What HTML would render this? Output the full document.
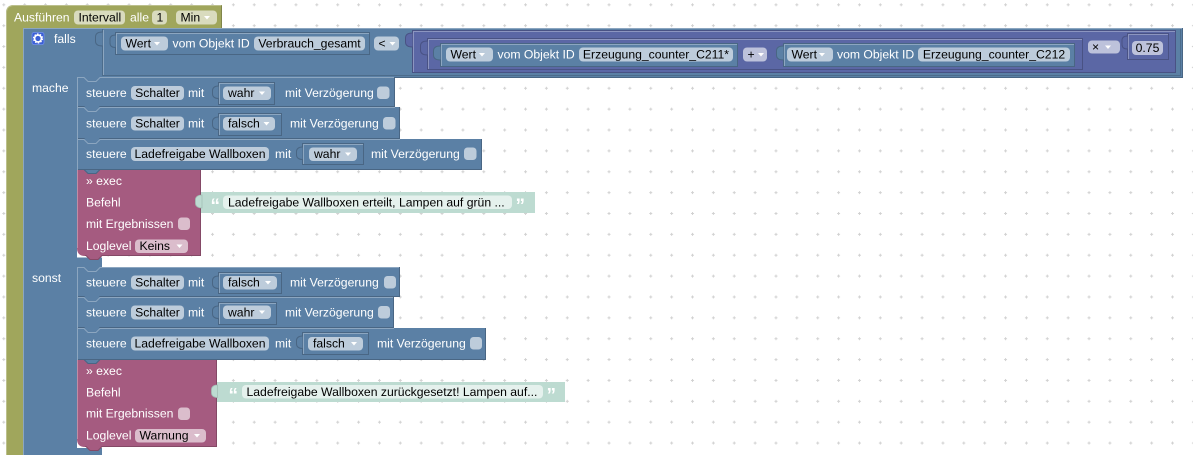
<!DOCTYPE html>
<html><head><meta charset="utf-8">
<style>
html,body{margin:0;padding:0;background:#fff;}
svg{display:block}
text{font-family:"Liberation Sans",Arial,sans-serif;font-size:12.2px;}
.l{fill:#fff}
.t{fill:#000}
.f{fill:#fff;fill-opacity:.6}
.a{fill:#fff}
.q{fill:#fff;font-size:19px;font-weight:bold}
</style></head><body>
<svg width="1193" height="455" viewBox="0 0 1193 455" xmlns="http://www.w3.org/2000/svg">
<defs>
<pattern id="g" width="20.87" height="20.87" patternUnits="userSpaceOnUse" x="2.3" y="3.3">
<path d="M0 1.5H3M1.5 0V3" stroke="#d2d2d2" stroke-width="1"/>
</pattern>
</defs>
<rect width="1193" height="455" fill="#fff"/>
<rect width="1193" height="455" fill="url(#g)"/>

<!-- Green event block -->
<path d="M6,13 Q6,5 14,5 H222 V28 H23 V455 H6 Z" fill="#a0a65c"/>
<path d="M6.5,455 V13 Q6.5,5.5 14,5.5 H221.5" stroke="#bcc08d" fill="none"/>
<path d="M221.5,5.5 V28" stroke="#80854a" fill="none"/>
<text class="l" x="14" y="21.5">Ausführen</text>
<rect class="f" x="74" y="10.5" width="51" height="14" rx="4"/>
<text class="t" x="78.5" y="21.5">Intervall</text>
<text class="l" x="130" y="21.5">alle</text>
<rect class="f" x="152" y="10.5" width="15" height="14" rx="4"/>
<text class="t" x="156.5" y="21.5">1</text>
<rect class="f" x="176" y="10.5" width="41" height="14" rx="4"/>
<text class="t" x="180.5" y="21.5">Min</text>
<polygon class="a" points="204,16 210,16 207,19.5"/>

<!-- If block -->
<path d="M23,28 H1183 V78 H77 V257.5 H102 V267.5 H77 V448 H102 V455 H23 Z" fill="#5b80a5"/>
<path d="M23.5,455 V28.5 H1183" stroke="#8ca6c0" fill="none"/>
<path d="M1182.5,28 V77.5 H77" stroke="#496684" fill="none"/>
<rect x="32" y="32.5" width="12" height="12" rx="2" fill="#3b5fd6" stroke="#7290ea" stroke-width=".8"/>
<circle cx="38" cy="38.5" r="3.4" fill="none" stroke="#fff" stroke-width="1.6"/>
<circle cx="38" cy="38.5" r="4.4" fill="none" stroke="#fff" stroke-width="1.4" stroke-dasharray="1.5 1.3"/>
<text class="l" x="54" y="43">falls</text>
<text class="l" x="32" y="92">mache</text>
<text class="l" x="32" y="282">sonst</text>

<!-- Compare block -->
<path d="M102.5,76 V29 M102,75.5 H1180.5 V29" stroke="#496684" fill="none" stroke-opacity=".8"/>
<path d="M103.5,75 V30" stroke="#8ca6c0" fill="none"/>
<path d="M102.5,32 c-5,0 -7,2 -7,5 v4 c0,3 2,5 7,5" fill="#5b80a5" stroke="#496684"/>

<!-- Get block 1 -->
<rect x="115.5" y="32.5" width="254" height="22" fill="#5b80a5" stroke="#496684"/>
<path d="M116.5,54 V33.5 H369" stroke="#8ca6c0" fill="none"/>
<path d="M115.5,35 c-4,0 -5.5,2 -5.5,4.5 v3.5 c0,2.5 1.5,4.5 5.5,4.5" fill="#5b80a5" stroke="#496684"/>
<rect class="f" x="121" y="36.5" width="47" height="14" rx="4"/>
<text class="t" x="125.5" y="47.5">Wert</text>
<polygon class="a" points="154,42 160,42 157,45.5"/>
<text class="l" x="172.5" y="47.5">vom Objekt ID</text>
<rect class="f" x="254" y="36.5" width="111" height="14" rx="4"/>
<text class="t" x="309.5" y="47.5" text-anchor="middle">Verbrauch_gesamt</text>
<rect class="f" x="374" y="36.5" width="25" height="14" rx="4"/>
<text class="t" x="378.5" y="47.5">&lt;</text>
<polygon class="a" points="389.5,42 395.5,42 392.5,45.5"/>

<!-- Purple outer (multiply) -->
<rect x="412.5" y="30.5" width="763" height="42" fill="#5b67a5" stroke="#495284"/>
<path d="M413.5,72 V31.5 H1175" stroke="#8c95c0" fill="none"/>
<path d="M412.5,33 c-5,0 -7,2 -7,5 v4 c0,3 2,5 7,5" fill="#5b67a5" stroke="#495284"/>
<!-- Purple inner (add) -->
<rect x="427.5" y="38.5" width="655" height="31" fill="#5b67a5" stroke="#495284"/>
<path d="M428.5,69 V39.5 H1082" stroke="#8c95c0" fill="none"/>
<path d="M427.5,41 c-5,0 -7,2 -7,5 v4 c0,3 2,5 7,5" fill="#5b67a5" stroke="#495284"/>

<!-- Get C211 -->
<rect x="440.5" y="43.5" width="297" height="23" fill="#5b80a5" stroke="#496684"/>
<path d="M441.5,66 V44.5 H737" stroke="#8ca6c0" fill="none"/>
<path d="M440.5,46 c-5,0 -7,2 -7,5 v4 c0,3 2,5 7,5" fill="#5b80a5" stroke="#496684"/>
<rect class="f" x="446" y="47.5" width="47" height="14" rx="4"/>
<text class="t" x="450.5" y="58.5">Wert</text>
<polygon class="a" points="479,53 485,53 482,56.5"/>
<text class="l" x="497.5" y="58.5">vom Objekt ID</text>
<rect class="f" x="579" y="47.5" width="154" height="14" rx="4"/>
<text class="t" x="656" y="58.5" text-anchor="middle">Erzeugung_counter_C211*</text>

<rect class="f" x="743" y="47.5" width="24" height="14" rx="4"/>
<text class="t" x="747.5" y="58.5">+</text>
<polygon class="a" points="758,53 764,53 761,56.5"/>

<!-- Get C212 -->
<rect x="783.5" y="43.5" width="291" height="23" fill="#5b80a5" stroke="#496684"/>
<path d="M784.5,66 V44.5 H1074" stroke="#8ca6c0" fill="none"/>
<path d="M783.5,46 c-5,0 -7,2 -7,5 v4 c0,3 2,5 7,5" fill="#5b80a5" stroke="#496684"/>
<rect class="f" x="787" y="47.5" width="46" height="14" rx="4"/>
<text class="t" x="791.5" y="58.5">Wert</text>
<polygon class="a" points="819,53 825,53 822,56.5"/>
<text class="l" x="837" y="58.5">vom Objekt ID</text>
<rect class="f" x="918" y="47.5" width="152" height="14" rx="4"/>
<text class="t" x="994" y="58.5" text-anchor="middle">Erzeugung_counter_C212</text>

<!-- multiply op + number -->
<rect class="f" x="1088" y="40.5" width="32" height="13" rx="4"/>
<text class="t" x="1092" y="51">×</text>
<polygon class="a" points="1105,45.5 1111,45.5 1108,49"/>
<rect x="1127.5" y="33.5" width="41" height="26" fill="#5b67a5" stroke="#495284"/>
<path d="M1128.5,59 V34.5 H1168" stroke="#8c95c0" fill="none"/>
<path d="M1127.5,36 c-4,0 -5.5,2 -5.5,4.5 v4 c0,2.5 1.5,4.5 5.5,4.5" fill="#5b67a5" stroke="#495284"/>
<rect class="f" x="1132" y="41" width="31" height="14" rx="4"/>
<text class="t" x="1147.5" y="52" text-anchor="middle">0.75</text>

<!-- ===== mache rows ===== -->
<!-- A1 -->
<rect x="77" y="77" width="318" height="30" fill="#5b80a5"/>
<path d="M77,106.5 H84 L88,110.5 H96 L100,106.5 H394.5 V77" stroke="#496684" fill="none"/>
<path d="M77.5,107 V77.5 H84 L88,81.5 H96 L100,77.5 H394" stroke="#8ca6c0" fill="none"/>
<text class="l" x="86" y="97">steuere</text>
<rect class="f" x="131" y="86" width="53" height="14" rx="4"/>
<text class="t" x="157.5" y="97" text-anchor="middle">Schalter</text>
<text class="l" x="188" y="97">mit</text>
<rect x="218.5" y="82.5" width="56" height="22" fill="#5b80a5" stroke="#496684"/>
<path d="M219.5,104 V83.5 H274" stroke="#8ca6c0" fill="none"/>
<path d="M218.5,86 c-4,0 -6,2 -6,4.5 v3.5 c0,2.5 2,4.5 6,4.5" fill="#5b80a5" stroke="#496684"/>
<rect class="f" x="223" y="86.5" width="48" height="13.5" rx="4"/>
<text class="t" x="228" y="97">wahr</text>
<polygon class="a" points="259,91.5 265,91.5 262,95"/>
<text class="l" x="285" y="97">mit Verzögerung</text>
<rect class="f" x="377" y="86.5" width="12.5" height="12.5" rx="3.5"/>

<!-- A2 -->
<rect x="77" y="107" width="323" height="32" fill="#5b80a5"/>
<path d="M77,138.5 H84 L88,142.5 H96 L100,138.5 H399.5 V107" stroke="#496684" fill="none"/>
<path d="M77.5,139 V107.5 H84 L88,111.5 H96 L100,107.5 H395" stroke="#8ca6c0" fill="none"/>
<text class="l" x="86" y="127.5">steuere</text>
<rect class="f" x="131" y="116.5" width="53" height="14" rx="4"/>
<text class="t" x="157.5" y="127.5" text-anchor="middle">Schalter</text>
<text class="l" x="188" y="127.5">mit</text>
<rect x="218.5" y="113.5" width="63" height="22" fill="#5b80a5" stroke="#496684"/>
<path d="M219.5,135 V114.5 H281" stroke="#8ca6c0" fill="none"/>
<path d="M218.5,117 c-4,0 -6,2 -6,4.5 v3.5 c0,2.5 2,4.5 6,4.5" fill="#5b80a5" stroke="#496684"/>
<rect class="f" x="223" y="117" width="52" height="13.5" rx="4"/>
<text class="t" x="228" y="127.5">falsch</text>
<polygon class="a" points="263.5,122 269.5,122 266.5,125.5"/>
<text class="l" x="290" y="127.5">mit Verzögerung</text>
<rect class="f" x="383" y="117" width="12.5" height="12.5" rx="3.5"/>

<!-- A3 -->
<rect x="77" y="139" width="405" height="31" fill="#5b80a5"/>
<path d="M77,169.5 H481.5 V139" stroke="#496684" fill="none"/>
<path d="M77.5,170 V139.5 H84 L88,143.5 H96 L100,139.5 H400" stroke="#8ca6c0" fill="none"/>
<text class="l" x="86" y="158">steuere</text>
<rect class="f" x="131" y="147" width="138" height="14" rx="4"/>
<text class="t" x="200" y="158" text-anchor="middle">Ladefreigabe Wallboxen</text>
<text class="l" x="275" y="158">mit</text>
<rect x="302.5" y="143.5" width="61" height="21" fill="#5b80a5" stroke="#496684"/>
<path d="M303.5,164 V144.5 H363" stroke="#8ca6c0" fill="none"/>
<path d="M302.5,147 c-4,0 -6,2 -6,4.5 v3.5 c0,2.5 2,4.5 6,4.5" fill="#5b80a5" stroke="#496684"/>
<rect class="f" x="309" y="147.5" width="48" height="13.5" rx="4"/>
<text class="t" x="314" y="158">wahr</text>
<polygon class="a" points="345,152.5 351,152.5 348,156"/>
<text class="l" x="371" y="158">mit Verzögerung</text>
<rect class="f" x="464" y="147.5" width="12.5" height="12.5" rx="3.5"/>

<!-- Exec A -->
<path d="M77,170 H201 V256 H102 L98,260 H90 L86,256 H85 Q77,256 77,248 Z" fill="#a55b80"/>
<path d="M77.5,248 V170" stroke="#c08da6" fill="none"/>
<path d="M200.5,170 V255.5 H102 L98,259.5 H90 L86,255.5 H85" stroke="#844966" fill="none"/>
<path d="M84,170 L88,174 H96 L100,170 Z" fill="#5b80a5"/>
<path d="M84,169.5 L88,173.5 H96 L100,169.5" stroke="#496684" fill="none"/>
<text class="l" x="86" y="185">» exec</text>
<text class="l" x="86" y="206.5">Befehl</text>
<text class="l" x="86" y="228">mit Ergebnissen</text>
<rect class="f" x="178" y="217.5" width="12" height="12.5" rx="3.5"/>
<text class="l" x="86" y="250">Loglevel</text>
<rect class="f" x="135" y="239.5" width="53" height="13.5" rx="4"/>
<text class="t" x="139.5" y="250">Keins</text>
<polygon class="a" points="176.5,244.5 182.5,244.5 179.5,248"/>

<!-- Text block A -->
<rect x="201" y="192" width="334" height="21" fill="#bddbd1"/>
<path d="M202,195 c-4,0 -6.5,2 -6.5,4.5 v4 c0,2.5 2.5,4.5 6.5,4.5 Z" fill="#bddbd1" stroke="#a3bfb5" stroke-width=".8"/>
<text class="q" x="210.5" y="212">“</text>
<rect class="f" x="223" y="195.5" width="289" height="13.5" rx="4"/>
<text class="t" x="228" y="206.5">Ladefreigabe Wallboxen erteilt, Lampen auf grün ...</text>
<text class="q" x="515.5" y="212">”</text>

<!-- ===== sonst rows ===== -->
<!-- B1 -->
<rect x="77" y="267" width="323" height="30" fill="#5b80a5"/>
<path d="M77,296.5 H84 L88,300.5 H96 L100,296.5 H399.5 V267" stroke="#496684" fill="none"/>
<path d="M77.5,297 V267.5 H84 L88,271.5 H96 L100,267.5 H399" stroke="#8ca6c0" fill="none"/>
<text class="l" x="86" y="286.5">steuere</text>
<rect class="f" x="131" y="275.5" width="53" height="14" rx="4"/>
<text class="t" x="157.5" y="286.5" text-anchor="middle">Schalter</text>
<text class="l" x="188" y="286.5">mit</text>
<rect x="218.5" y="272.5" width="63" height="21" fill="#5b80a5" stroke="#496684"/>
<path d="M219.5,293 V273.5 H281" stroke="#8ca6c0" fill="none"/>
<path d="M218.5,276 c-4,0 -6,2 -6,4.5 v3.5 c0,2.5 2,4.5 6,4.5" fill="#5b80a5" stroke="#496684"/>
<rect class="f" x="223" y="276" width="54" height="13.5" rx="4"/>
<text class="t" x="228" y="286.5">falsch</text>
<polygon class="a" points="265,281 271,281 268,284.5"/>
<text class="l" x="290" y="286.5">mit Verzögerung</text>
<rect class="f" x="384" y="276" width="12" height="12.5" rx="3.5"/>

<!-- B2 -->
<rect x="77" y="297" width="317" height="31" fill="#5b80a5"/>
<path d="M77,327.5 H84 L88,331.5 H96 L100,327.5 H393.5 V297" stroke="#496684" fill="none"/>
<path d="M77.5,328 V297.5 H84 L88,301.5 H96 L100,297.5 H393" stroke="#8ca6c0" fill="none"/>
<text class="l" x="86" y="316.5">steuere</text>
<rect class="f" x="131" y="305.5" width="53" height="14" rx="4"/>
<text class="t" x="157.5" y="316.5" text-anchor="middle">Schalter</text>
<text class="l" x="188" y="316.5">mit</text>
<rect x="218.5" y="302.5" width="58" height="22" fill="#5b80a5" stroke="#496684"/>
<path d="M219.5,324 V303.5 H276" stroke="#8ca6c0" fill="none"/>
<path d="M218.5,306 c-4,0 -6,2 -6,4.5 v3.5 c0,2.5 2,4.5 6,4.5" fill="#5b80a5" stroke="#496684"/>
<rect class="f" x="223" y="305.5" width="48" height="13.5" rx="4"/>
<text class="t" x="228" y="316.5">wahr</text>
<polygon class="a" points="259,310.5 265,310.5 262,314"/>
<text class="l" x="285" y="316.5">mit Verzögerung</text>
<rect class="f" x="378" y="306" width="12" height="12.5" rx="3.5"/>

<!-- B3 -->
<rect x="77" y="328" width="409" height="32" fill="#5b80a5"/>
<path d="M77,359.5 H485.5 V328" stroke="#496684" fill="none"/>
<path d="M77.5,360 V328.5 H84 L88,332.5 H96 L100,328.5 H394" stroke="#8ca6c0" fill="none"/>
<text class="l" x="86" y="347.5">steuere</text>
<rect class="f" x="131" y="336.5" width="138" height="14" rx="4"/>
<text class="t" x="200" y="347.5" text-anchor="middle">Ladefreigabe Wallboxen</text>
<text class="l" x="275" y="347.5">mit</text>
<rect x="302.5" y="332.5" width="66" height="22" fill="#5b80a5" stroke="#496684"/>
<path d="M303.5,354 V333.5 H368" stroke="#8ca6c0" fill="none"/>
<path d="M302.5,336 c-4,0 -6,2 -6,4.5 v3.5 c0,2.5 2,4.5 6,4.5" fill="#5b80a5" stroke="#496684"/>
<rect class="f" x="308" y="337" width="55" height="13.5" rx="4"/>
<text class="t" x="313" y="347.5">falsch</text>
<polygon class="a" points="351,342 357,342 354,345.5"/>
<text class="l" x="377" y="347.5">mit Verzögerung</text>
<rect class="f" x="470" y="337" width="12" height="12.5" rx="3.5"/>

<!-- Exec B -->
<path d="M77,360 H217 V447 H102 L98,451 H90 L86,447 H85 Q77,447 77,439 Z" fill="#a55b80"/>
<path d="M77.5,439 V360" stroke="#c08da6" fill="none"/>
<path d="M216.5,360 V446.5 H102 L98,450.5 H90 L86,446.5 H85" stroke="#844966" fill="none"/>
<path d="M84,360 L88,364 H96 L100,360 Z" fill="#5b80a5"/>
<path d="M84,359.5 L88,363.5 H96 L100,359.5" stroke="#496684" fill="none"/>
<text class="l" x="86" y="375">» exec</text>
<text class="l" x="86" y="396.5">Befehl</text>
<text class="l" x="86" y="417.5">mit Ergebnissen</text>
<rect class="f" x="178" y="407.5" width="12" height="12.5" rx="3.5"/>
<text class="l" x="86" y="439.5">Loglevel</text>
<rect class="f" x="135" y="429" width="71" height="13.5" rx="4"/>
<text class="t" x="139.5" y="439.5">Warnung</text>
<polygon class="a" points="194,434 200,434 197,437.5"/>

<!-- Text block B -->
<rect x="217" y="382" width="348" height="20" fill="#bddbd1"/>
<path d="M217.5,385 c-4,0 -6,2 -6,4.5 v3.5 c0,2.5 2,4.5 6,4.5 Z" fill="#bddbd1" stroke="#a3bfb5" stroke-width=".8"/>
<text class="q" x="228.5" y="401.5">“</text>
<rect class="f" x="242" y="385" width="301" height="13.5" rx="4"/>
<text class="t" x="246.5" y="396">Ladefreigabe Wallboxen zurückgesetzt! Lampen auf...</text>
<text class="q" x="546.5" y="401.5">”</text>

</svg>
</body></html>
